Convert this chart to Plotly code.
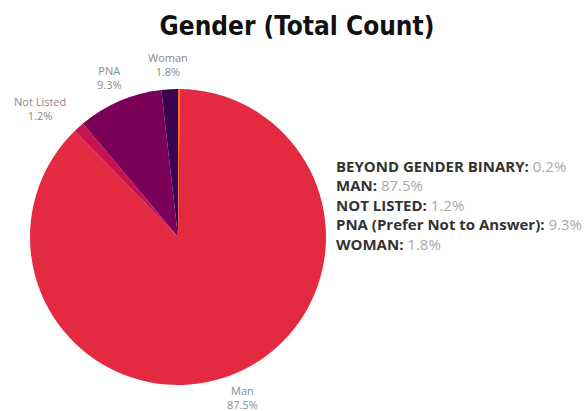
import math
import plotly.graph_objects as go

# Gender breakdown (percent of total count), clockwise from 12 o'clock
labels = ["Beyond Gender Binary", "Man", "Not Listed", "PNA", "Woman"]
values = [0.2, 87.5, 1.2, 9.3, 1.8]
legend_labels = ["BEYOND GENDER BINARY", "MAN", "NOT LISTED",
                 "PNA (Prefer Not to Answer)", "WOMAN"]
show_slice_label = [False, True, True, True, True]
colors = ["#F26B21", "#E42A41", "#C8114F", "#7B0058", "#3B0450"]

W, H = 585, 411
CX, CY, R = 178, 237, 148  # pie centre and radius in pixels

fig = go.Figure(go.Pie(
    labels=labels,
    values=values,
    sort=False,
    direction="clockwise",
    rotation=0,
    textinfo="none",
    hoverinfo="label+percent",
    marker=dict(colors=colors, line=dict(width=0)),
    domain=dict(x=[(CX - R) / W, (CX + R) / W],
                y=[1 - (CY + R) / H, 1 - (CY - R) / H]),
    showlegend=False,
))

annotations = []

# Outside slice labels, placed radially at each slice's mid-angle
total = sum(values)
cum = 0.0
for lab, v, show in zip(labels, values, show_slice_label):
    mid = (cum + v / 2) / total * 2 * math.pi
    cum += v
    if not show:
        continue
    k = 1.17
    px = CX + R * k * math.sin(mid)
    py = CY - R * k * math.cos(mid)
    # labels on the left flank are pushed a little further out
    if math.sin(mid) < -0.5:
        px -= 22
    annotations.append(dict(
        x=px / W, y=1 - py / H, xref="paper", yref="paper",
        text=f"{lab}<br>{v}%", showarrow=False,
        xanchor="center", yanchor="middle",
        font=dict(family="Open Sans, Roboto, sans-serif", size=11, color="#8a8a8a"),
    ))

# Text legend on the right
LX, LY0, LSTEP = 334, 165.5, 19.5
for i, (name, v) in enumerate(zip(legend_labels, values)):
    annotations.append(dict(
        x=LX / W, y=1 - (LY0 + i * LSTEP) / H, xref="paper", yref="paper",
        text=f"<b>{name}:</b> <span style='color:#a8a8a8'>{v}%</span>",
        showarrow=False, xanchor="left", yanchor="middle",
        font=dict(family="Open Sans, sans-serif", size=15, color="#333333"),
    ))

fig.update_layout(
    width=W, height=H,
    margin=dict(l=0, r=0, t=0, b=0),
    paper_bgcolor="white",
    plot_bgcolor="white",
    title=dict(
        text="<span style='font-stretch:condensed'>Gender (Total Count)</span>",
        x=297 / W, xanchor="center",
        y=1 - 26 / H, yanchor="middle",
        font=dict(family="DejaVu Sans Condensed, DejaVu Sans",
                  size=26, color="#111111", weight="bold"),
    ),
    annotations=annotations,
)

fig.write_html("out.html")
